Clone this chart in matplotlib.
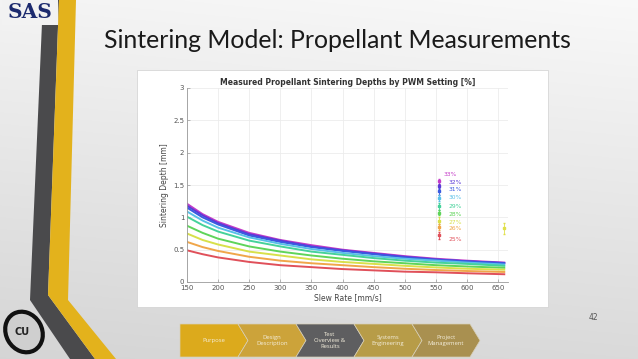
import matplotlib.pyplot as plt
import matplotlib.patches as mpatches
import numpy as np

slew = [150, 175, 200, 250, 300, 350, 400, 450, 500, 550, 600, 660]

# model sintering depth [mm] per PWM setting
pwm_labels = ["33%", "32%", "31%", "30%", "29%", "28%", "27%", "26%", "25%"]
depth_33 = [1.21, 1.05, 0.93, 0.76, 0.65, 0.57, 0.50, 0.45, 0.40, 0.36, 0.33, 0.30]
depth_32 = [1.18, 1.03, 0.91, 0.74, 0.64, 0.55, 0.49, 0.44, 0.39, 0.35, 0.32, 0.295]
depth_31 = [1.15, 1.00, 0.89, 0.72, 0.62, 0.54, 0.48, 0.43, 0.38, 0.345, 0.32, 0.29]
depth_30 = [1.09, 0.95, 0.84, 0.69, 0.59, 0.51, 0.45, 0.40, 0.36, 0.33, 0.30, 0.27]
depth_29 = [1.01, 0.88, 0.78, 0.64, 0.55, 0.47, 0.42, 0.37, 0.33, 0.30, 0.28, 0.25]
depth_28 = [0.87, 0.76, 0.67, 0.55, 0.47, 0.41, 0.36, 0.32, 0.29, 0.26, 0.24, 0.22]
depth_27 = [0.75, 0.65, 0.58, 0.47, 0.41, 0.35, 0.31, 0.28, 0.25, 0.225, 0.205, 0.19]
depth_26 = [0.62, 0.54, 0.48, 0.39, 0.33, 0.29, 0.26, 0.23, 0.205, 0.185, 0.17, 0.155]
depth_25 = [0.49, 0.43, 0.38, 0.31, 0.26, 0.23, 0.20, 0.18, 0.16, 0.15, 0.135, 0.12]
curves = [depth_33, depth_32, depth_31, depth_30, depth_29,
          depth_28, depth_27, depth_26, depth_25]

# measured points at 555 mm/s
meas_x = 555
meas_depth = [1.56, 1.48, 1.40, 1.30, 1.17, 1.07, 0.95, 0.85, 0.72]
meas_err = [0.04, 0.04, 0.05, 0.04, 0.05, 0.04, 0.05, 0.04, 0.05]
label_y = [1.66, 1.54, 1.43, 1.31, 1.17, 1.05, 0.92, 0.82, 0.66]
# extra point
extra_x, extra_depth, extra_err = 660, 0.83, 0.08

colors = ["#c43cc8", "#5b3ad6", "#3a5ae0", "#58c0e8", "#45d29a",
          "#5fd45a", "#d8e04a", "#f0a64a", "#e0505a"]

nav_items = ["Purpose", "Design\nDescription", "Test\nOverview &\nResults",
             "Systems\nEngineering", "Project\nManagement"]
nav_colors = ["#dcaa1c", "#cca33a", "#5e5e60", "#b79c48", "#a99050"]

W, H = 638, 359
fig = plt.figure(figsize=(W / 100, H / 100), dpi=100)

# slide background
bg = fig.add_axes([0, 0, 1, 1])
yy, xx = np.mgrid[0:1:200j, 0:1:300j]
shade = 0.955 - 0.12 * yy + 0.02 * xx
bg.imshow(np.dstack([shade, shade, shade]), extent=[0, W, H, 0], aspect="auto")
bg.set_xlim(0, W)
bg.set_ylim(H, 0)
bg.axis("off")

# left decorative stripes
bg.add_patch(mpatches.Polygon([(43, 0), (59, 0), (48, 295), (95, 359), (70, 359), (30, 300)],
                              closed=True, color="#4a4a4c", lw=0))
bg.add_patch(mpatches.Polygon([(59, 0), (76, 0), (68, 300), (116, 359), (95, 359), (48, 295)],
                              closed=True, color="#e3b21c", lw=0))
bg.add_patch(mpatches.Rectangle((2, 0), 56, 25, facecolor="#f2f2f2", lw=0))
bg.text(30, 12, "SAS", ha="center", va="center", fontsize=14.5, fontweight="bold",
        family="DejaVu Serif", color="#1c2a6e")
bg.add_patch(mpatches.Ellipse((24, 332), 36, 42, angle=-30, facecolor="#cfcfcf",
                              edgecolor="#111111", lw=3))
bg.text(22, 332, "CU", ha="center", va="center", fontsize=7, fontweight="bold",
        color="#222222")

# slide title
bg.text(104, 40, "Sintering Model: Propellant Measurements", ha="left", va="center",
        fontsize=17.9, family="Lato", color="#1a1a1a")
bg.text(593, 318, "42", ha="center", va="center", fontsize=5.5, color="#555555")

# navigation chevrons
x0, step, y_top, y_bot, tip = 180, 58, 324, 357, 10
for i, (txt, c) in enumerate(zip(nav_items, nav_colors)):
    xl = x0 + i * step
    xr = xl + step
    ym = (y_top + y_bot) / 2
    if i == 0:
        pts = [(xl, y_top), (xr, y_top), (xr + tip, ym), (xr, y_bot), (xl, y_bot)]
    else:
        pts = [(xl, y_top), (xr, y_top), (xr + tip, ym), (xr, y_bot), (xl, y_bot),
               (xl + tip, ym)]
    bg.add_patch(mpatches.Polygon(pts, closed=True, facecolor=c, edgecolor="#d8d0b8", lw=0.5))
    bg.text((xl + xr) / 2 + tip / 2, ym, txt, ha="center", va="center", fontsize=4.2,
            color="#f4eedc", family="Open Sans", linespacing=1.2)

# chart image area
bg.add_patch(mpatches.Rectangle((137, 70), 411, 237, facecolor="white",
                                edgecolor="#d0d0d0", lw=0.5))

ax = fig.add_axes([187 / W, 1 - 282 / H, (508 - 187) / W, (282 - 88) / H])
for d, c in zip(curves, colors):
    ax.plot(slew, d, color=c, lw=1.4)
for d, e, c in zip(meas_depth, meas_err, colors):
    ax.errorbar(meas_x, d, yerr=e, fmt="s", ms=1.5, color=c, elinewidth=0.6, capsize=1)
ax.errorbar(extra_x, extra_depth, yerr=extra_err, fmt="s", ms=1.5, color="#e0e04a",
            elinewidth=0.6, capsize=1)
for i, (t, ly, c) in enumerate(zip(pwm_labels, label_y, colors)):
    ax.text(562 if i == 0 else 570, ly, t, color=c, fontsize=4.3, ha="left", va="center")

ax.set_xlim(150, 666)
ax.set_ylim(0, 3)
ax.set_xticks(range(150, 651, 50))
ax.set_yticks([0, 0.5, 1, 1.5, 2, 2.5, 3])
ax.set_yticklabels(["0", "0.5", "1", "1.5", "2", "2.5", "3"])
ax.grid(True, color="#ececec", lw=0.6)
ax.set_axisbelow(True)
for s in ["top", "right"]:
    ax.spines[s].set_visible(False)
for s in ["left", "bottom"]:
    ax.spines[s].set_color("#9a9a9a")
    ax.spines[s].set_linewidth(0.6)
ax.tick_params(direction="in", length=2, width=0.5, labelsize=5, colors="#9a9a9a",
               labelcolor="#555555", pad=2)
ax.set_xlabel("Slew Rate [mm/s]", fontsize=5.5, color="#444444", labelpad=2)
ax.set_ylabel("Sintering Depth [mm]", fontsize=5.5, color="#444444", labelpad=3)
ax.set_title("Measured Propellant Sintering Depths by PWM Setting [%]", fontsize=5.5,
             fontweight="bold", color="#333333", pad=2)

fig.savefig("out.png", dpi=100)
